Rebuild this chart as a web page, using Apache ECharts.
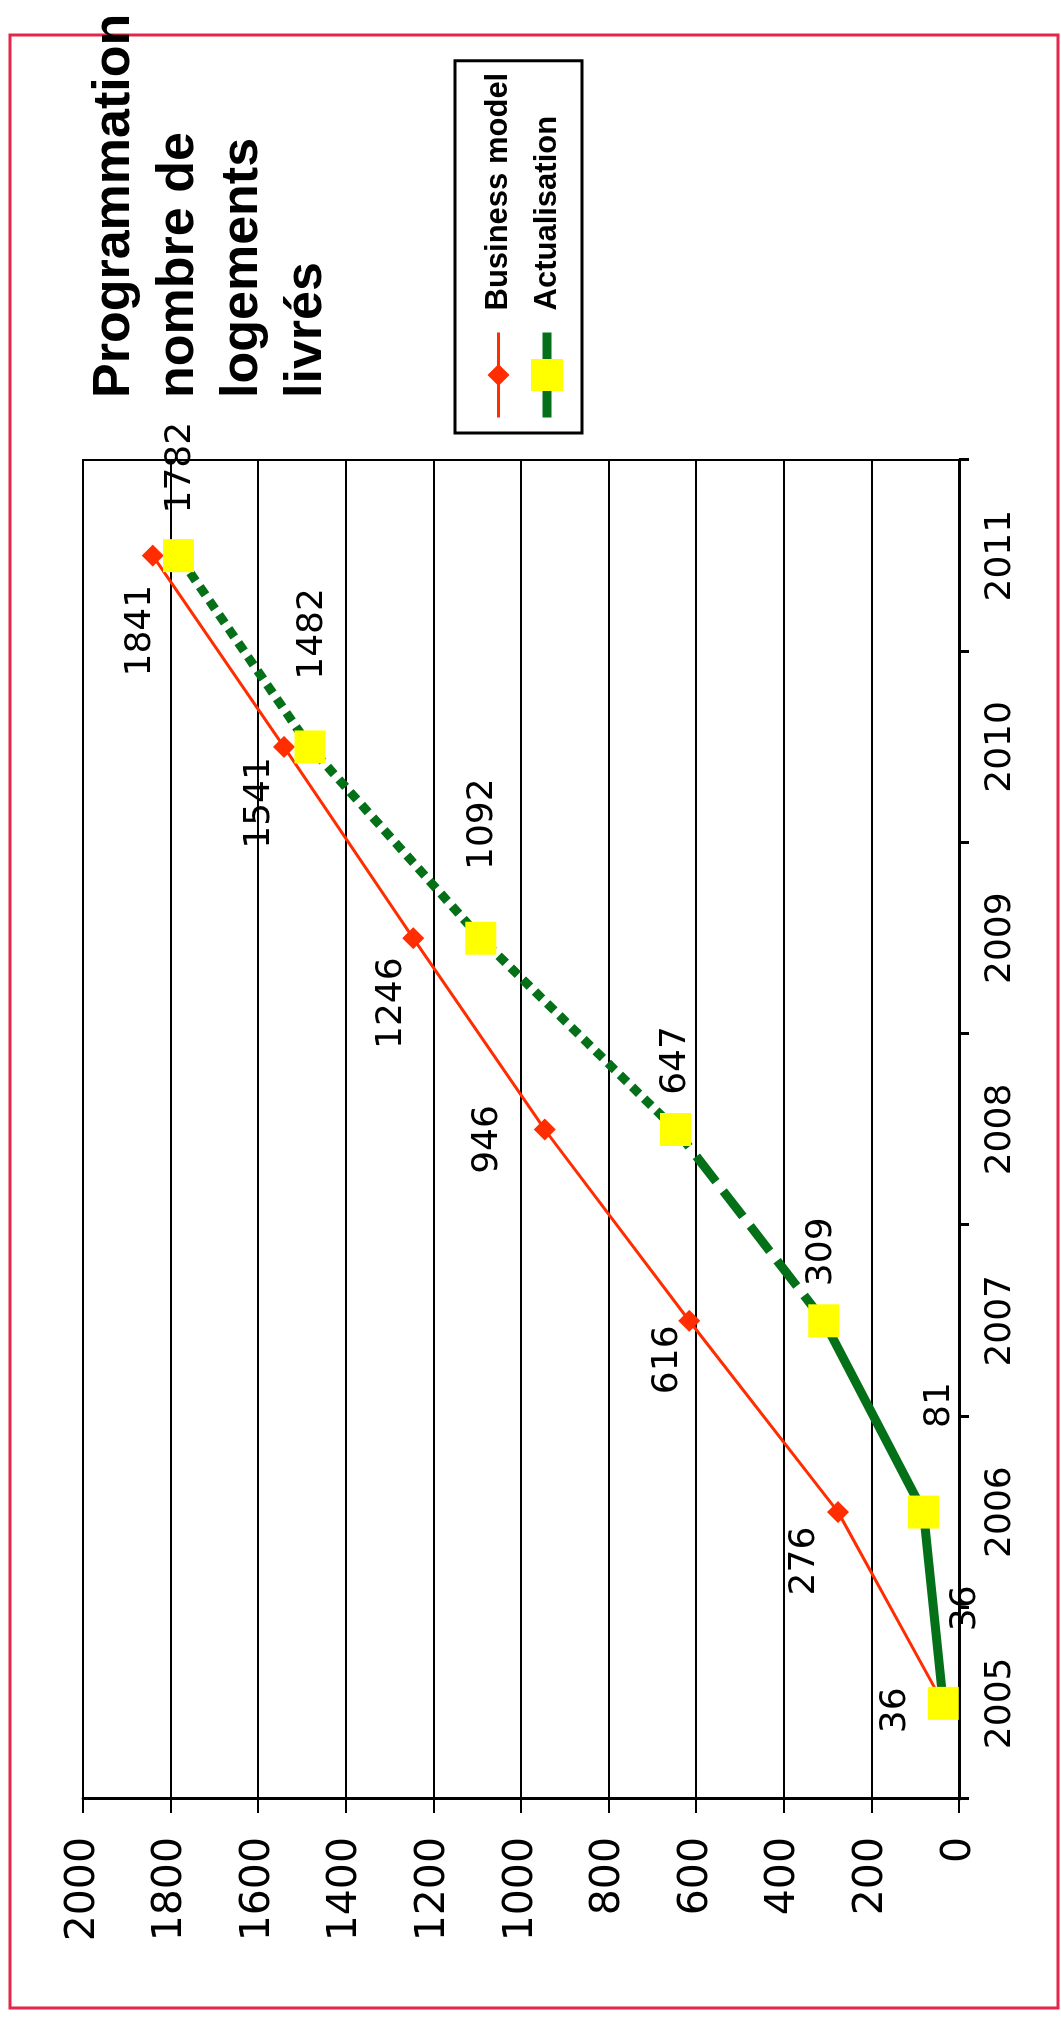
<!DOCTYPE html>
<html>
<head>
<meta charset="utf-8">
<script src="https://cdn.jsdelivr.net/npm/echarts@6/dist/echarts.min.js"></script>
<style>
  html, body { margin: 0; padding: 0; width: 1061px; height: 2018px; overflow: hidden; background: #fff; }
  /* the chart is drawn in landscape and turned a quarter turn to the left */
  #chart {
    position: absolute; left: 0; top: 0;
    width: 2018px; height: 1061px;
    transform-origin: 0 0;
    transform: translate(0, 2018px) rotate(-90deg);
  }
</style>
</head>
<body>
<div id="chart"></div>
<script>
const years = ['2005', '2006', '2007', '2008', '2009', '2010', '2011']
const businessModel = [36, 276, 616, 946, 1246, 1541, 1841]
const actualisation = [36, 81, 309, 647, 1092, 1482, 1782]

// label placement around each point, [dx, dy]
const bmLabelOffset = [[-7, -48], [-49, -33], [-39, -22], [-10, -57], [-65, -22], [-56, -24], [-75, -12]]
const actLabelOffset = [[95, 22], [107, 16], [69, -2], [69, 0], [114, 2], [113, 3], [88, 2]]

const RED = '#ff2d00'
const GREEN = '#047018'
const YELLOW = '#ffff00'
const numFont = 'DejaVu Sans'
const textFont = 'Liberation Sans, Arial, sans-serif'

// segment of the green line kept between two indexes
const segment = (from, to) => actualisation.map((v, i) => (i >= from && i <= to ? v : null))

const chart = echarts.init(document.getElementById('chart'))

const option = {
  animation: false,
  backgroundColor: '#fff',
  title: {
    text: 'Programmation\nnombre de\nlogements\nlivrés',
    left: 1615,
    top: 78,
    textStyle: { fontFamily: textFont, fontSize: 52, fontWeight: 'bold', lineHeight: 64, color: '#000' }
  },
  legend: {
    orient: 'vertical',
    left: 1585,
    top: 455,
    padding: [28, 12, 19, 11],
    itemWidth: 85,
    itemHeight: 40,
    itemGap: 17,
    borderColor: '#000',
    borderWidth: 3,
    selectedMode: false,
    textStyle: { fontFamily: textFont, fontSize: 31, fontWeight: 'bold', color: '#000', padding: [0, 0, 0, 17] },
    data: [
      {
        name: 'Business model',
        icon: 'path://M0,18.5H85V21.5H0Z M42.5,9L53.5,20L42.5,31L31.5,20Z',
        itemStyle: { color: RED, borderWidth: 0 }
      },
      {
        name: 'Actualisation',
        lineStyle: { color: GREEN, width: 9, type: 'solid', opacity: 1 },
        itemStyle: { color: YELLOW, borderWidth: 0 }
      }
    ]
  },
  graphic: [
    {
      type: 'rect',
      shape: { x: 10, y: 10, width: 1973, height: 1048 },
      style: { fill: 'none', stroke: '#e3264a', lineWidth: 3 },
      silent: true
    }
  ],
  grid: {
    left: 219, right: 460, top: 83, bottom: 102,
    show: true, borderColor: '#000', borderWidth: 2
  },
  xAxis: {
    type: 'category',
    data: years,
    boundaryGap: true,
    axisLine: { lineStyle: { color: '#000', width: 3 } },
    axisTick: { show: true, length: 10, lineStyle: { color: '#000', width: 3 } },
    axisLabel: { color: '#000', fontFamily: numFont, fontSize: 36, margin: 24 },
    splitLine: { show: false }
  },
  yAxis: {
    type: 'value',
    min: 0,
    max: 2000,
    interval: 200,
    axisLine: { show: true, lineStyle: { color: '#000', width: 3 } },
    axisTick: { show: true, length: 14, lineStyle: { color: '#000', width: 2 } },
    axisLabel: { color: '#000', fontFamily: numFont, fontSize: 41, margin: 38, formatter: v => String(v) },
    splitLine: { lineStyle: { color: '#000', width: 2 } }
  },
  series: [
    {
      name: 'Business model',
      type: 'line',
      z: 2,
      data: businessModel.map((v, i) => ({ value: v, label: { offset: bmLabelOffset[i] } })),
      symbol: 'diamond',
      symbolSize: 22,
      lineStyle: { color: RED, width: 3 },
      itemStyle: { color: RED },
      label: { show: true, position: 'inside', color: '#000', fontFamily: numFont, fontSize: 36 }
    },
    {
      name: 'seg-solid',
      type: 'line',
      z: 3,
      silent: true,
      data: segment(0, 2),
      symbol: 'none',
      lineStyle: { color: GREEN, width: 9, type: 'solid' }
    },
    {
      name: 'seg-dashed',
      type: 'line',
      z: 3,
      silent: true,
      data: segment(2, 3),
      symbol: 'none',
      lineStyle: { color: GREEN, width: 9, type: [32, 12] }
    },
    {
      name: 'seg-dotted',
      type: 'line',
      z: 3,
      silent: true,
      data: segment(3, 6),
      symbol: 'none',
      lineStyle: { color: GREEN, width: 9, type: [10, 7] }
    },
    {
      name: 'Actualisation',
      type: 'line',
      z: 4,
      data: actualisation.map((v, i) => ({ value: v, label: { offset: actLabelOffset[i] } })),
      symbol: 'rect',
      symbolSize: [33, 31],
      lineStyle: { opacity: 0 },
      itemStyle: { color: YELLOW },
      label: { show: true, position: 'inside', color: '#000', fontFamily: numFont, fontSize: 36 }
    }
  ]
}

chart.setOption(option)
</script>
</body>
</html>
